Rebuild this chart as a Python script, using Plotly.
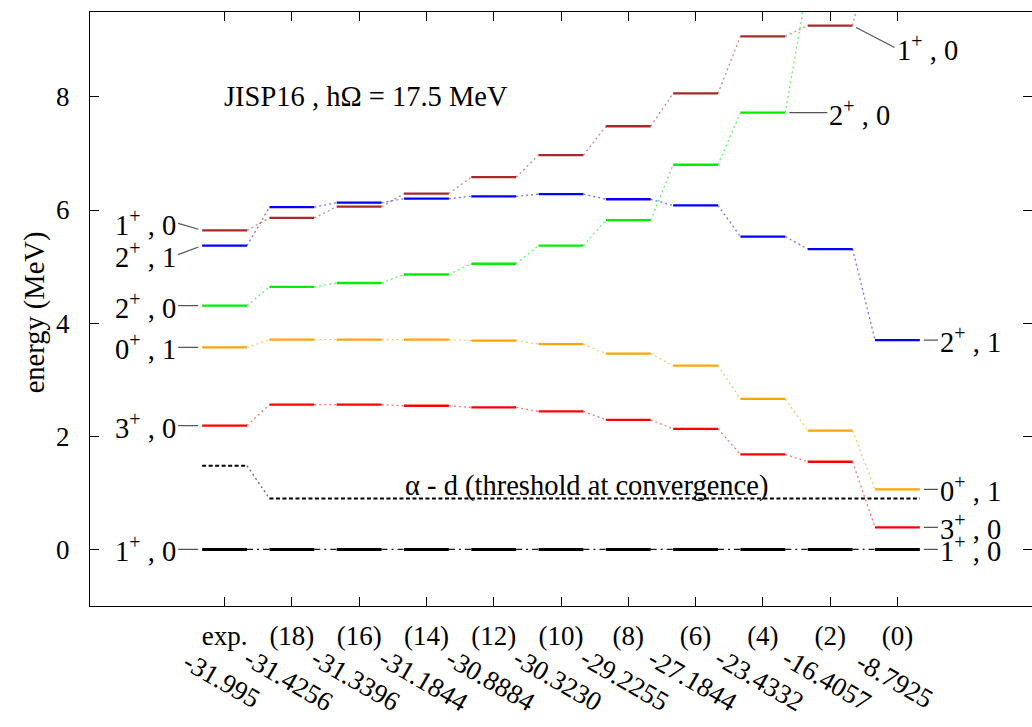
import plotly.graph_objects as go

# ---------------- data ----------------
columns = ["exp.", "(18)", "(16)", "(14)", "(12)", "(10)", "(8)", "(6)", "(4)", "(2)", "(0)"]
binding = ["-31.995", "-31.4256", "-31.3396", "-31.1844", "-30.8884", "-30.3230",
           "-29.2255", "-27.1844", "-23.4332", "-16.4057", "-8.7925"]

e_1p_0_gs = [0.0, 0.0, 0.0, 0.0, 0.0, 0.0, 0.0, 0.0, 0.0, 0.0, 0.0]
e_3p_0 = [2.19, 2.56, 2.56, 2.54, 2.51, 2.44, 2.29, 2.13, 1.68, 1.55, 0.39]
e_0p_1 = [3.57, 3.71, 3.71, 3.71, 3.69, 3.63, 3.46, 3.25, 2.66, 2.10, 1.06]
e_2p_0 = [4.31, 4.64, 4.71, 4.86, 5.05, 5.37, 5.82, 6.80, 7.72, 10.0, 11.3]
e_2p_1 = [5.37, 6.05, 6.13, 6.20, 6.24, 6.28, 6.19, 6.08, 5.53, 5.31, 3.70]
e_1p_0 = [5.64, 5.86, 6.06, 6.29, 6.58, 6.97, 7.48, 8.06, 9.07, 9.26, 11.0]
threshold = [1.48, 0.90, 0.90, 0.90, 0.90, 0.90, 0.90, 0.90, 0.90, 0.90, 0.90]

title_text = "JISP16 , hΩ = 17.5 MeV"
threshold_text = "α - d (threshold at convergence)"

# ---------------- style ----------------
FONT = "Liberation Serif, Times New Roman, serif"
FS = 27      # tick labels
FSA = 28.5   # annotations / labels
HW = 1 / 3   # half width of a level bar (in column units)

series = [
    # values, color, level width, connector dash, connector opacity
    (e_1p_0_gs, "#000000", 3.0, "6px,4px,2px,4px", 0.9),
    (e_3p_0, "#ff0000", 2.3, "2px,3px", 0.55),
    (e_0p_1, "#ffa500", 2.3, "2px,3px", 0.6),
    (e_2p_0, "#00ee00", 2.3, "2px,3px", 0.6),
    (e_2p_1, "#0000ff", 2.3, "2px,3px", 0.55),
    (e_1p_0, "#a52a2a", 2.3, "2px,3px", 0.55),
]


def level_xy(vals):
    xs, ys = [], []
    for i, v in enumerate(vals):
        xs += [i - HW, i + HW, None]
        ys += [v, v, None]
    return xs, ys


def conn_xy(vals):
    xs, ys = [], []
    for i in range(len(vals) - 1):
        xs += [i + HW, i + 1 - HW, None]
        ys += [vals[i], vals[i + 1], None]
    return xs, ys


fig = go.Figure()

for vals, color, lw, dash, op in series:
    cx, cy = conn_xy(vals)
    fig.add_trace(go.Scatter(x=cx, y=cy, mode="lines", opacity=op,
                             line=dict(color=color, width=1.3, dash=dash),
                             hoverinfo="skip", showlegend=False))
    lx, ly = level_xy(vals)
    fig.add_trace(go.Scatter(x=lx, y=ly, mode="lines",
                             line=dict(color=color, width=lw),
                             hoverinfo="skip", showlegend=False))

# threshold: experimental bar, connector, then continuous line at convergence
tx, ty = [], []
for i in range(1, len(threshold)):
    tx += [i - HW, i + HW]
    ty += [threshold[i], threshold[i]]
fig.add_trace(go.Scatter(x=[0 - HW, 0 + HW], y=[threshold[0], threshold[0]], mode="lines",
                         line=dict(color="#000", width=2, dash="4px,2.5px"),
                         hoverinfo="skip", showlegend=False))
fig.add_trace(go.Scatter(x=[0 + HW, 1 - HW], y=[threshold[0], threshold[1]], mode="lines",
                         opacity=0.6, line=dict(color="#000", width=1.3, dash="2px,3px"),
                         hoverinfo="skip", showlegend=False))
fig.add_trace(go.Scatter(x=tx, y=ty, mode="lines",
                         line=dict(color="#000", width=2, dash="4px,2.5px"),
                         hoverinfo="skip", showlegend=False))

annotations = []

# title and threshold label
annotations.append(dict(x=2.1, y=8.0, xref="x", yref="y", text=title_text, showarrow=False,
                        font=dict(family=FONT, size=FSA, color="#000")))
annotations.append(dict(x=5.38, y=1.13, xref="x", yref="y", text=threshold_text, showarrow=False,
                        font=dict(family=FONT, size=FSA, color="#000")))

# rotated binding energies under the axis
for i, b in enumerate(binding):
    annotations.append(dict(x=i - 0.05, y=-0.125, xref="x", yref="paper", text=b, showarrow=False,
                            textangle=30, xanchor="center", yanchor="middle",
                            font=dict(family=FONT, size=FS, color="#000")))

# y axis title
annotations.append(dict(x=-0.058, y=0.495, xref="paper", yref="paper", text="energy (MeV)",
                        showarrow=False, textangle=-90, xanchor="center", yanchor="middle",
                        font=dict(family=FONT, size=FSA, color="#000")))


def sp(j, p):
    return f"{j}<sup>+</sup> , {p}"


# left labels (experimental column)
left_labels = [
    (sp(1, 0), e_1p_0[0], -7),
    (sp(2, 1), e_2p_1[0], 9),
    (sp(2, 0), e_2p_0[0], 0),
    (sp(0, 1), e_0p_1[0], 0),
    (sp(3, 0), e_3p_0[0], 0),
    (sp(1, 0), e_1p_0_gs[0], 0),
]
for text, yv, ay in left_labels:
    annotations.append(dict(x=0 - HW, y=yv, xref="x", yref="y", text=text, showarrow=True,
                            arrowhead=0, arrowwidth=1.2, arrowcolor="#555", standoff=4,
                            ax=-24, ay=ay, xanchor="right", yanchor="middle",
                            font=dict(family=FONT, size=FSA, color="#000")))

# right labels
right_labels = [
    (sp(2, 1), 10, e_2p_1[10], 18, 0),
    (sp(0, 1), 10, e_0p_1[10], 18, 0),
    (sp(3, 0), 10, e_3p_0[10], 18, 0),
    (sp(1, 0), 10, e_1p_0_gs[10], 18, 0),
    (sp(2, 0), 8, e_2p_0[8], 42, 0),
    (sp(1, 0), 9, e_1p_0[9], 42, 22),
]
for text, col, yv, ax, ay in right_labels:
    annotations.append(dict(x=col + HW, y=yv, xref="x", yref="y", text=text, showarrow=True,
                            arrowhead=0, arrowwidth=1.2, arrowcolor="#555", standoff=4,
                            ax=ax, ay=ay, xanchor="left", yanchor="middle",
                            font=dict(family=FONT, size=FSA, color="#000")))

fig.update_layout(
    width=1032, height=727,
    margin=dict(l=90, r=0, t=12, b=121),
    paper_bgcolor="white", plot_bgcolor="white",
    showlegend=False,
    annotations=annotations,
    font=dict(family=FONT, size=FS, color="#000"),
)
fig.update_xaxes(range=[-2, 12], tickvals=list(range(len(columns))), ticktext=columns,
                 ticks="inside", ticklen=9, tickcolor="#000", showline=True, linecolor="#000",
                 linewidth=1, mirror="ticks", showgrid=False, zeroline=False,
                 ticklabelstandoff=6, tickfont=dict(family=FONT, size=FS, color="#000"))
fig.update_yaxes(range=[-1, 9.5], tickvals=[0, 2, 4, 6, 8],
                 ticks="inside", ticklen=9, tickcolor="#000", showline=True, linecolor="#000",
                 linewidth=1, mirror="ticks", showgrid=False, zeroline=False,
                 ticklabelstandoff=14, tickfont=dict(family=FONT, size=FS, color="#000"))

fig.write_html("out.html")
